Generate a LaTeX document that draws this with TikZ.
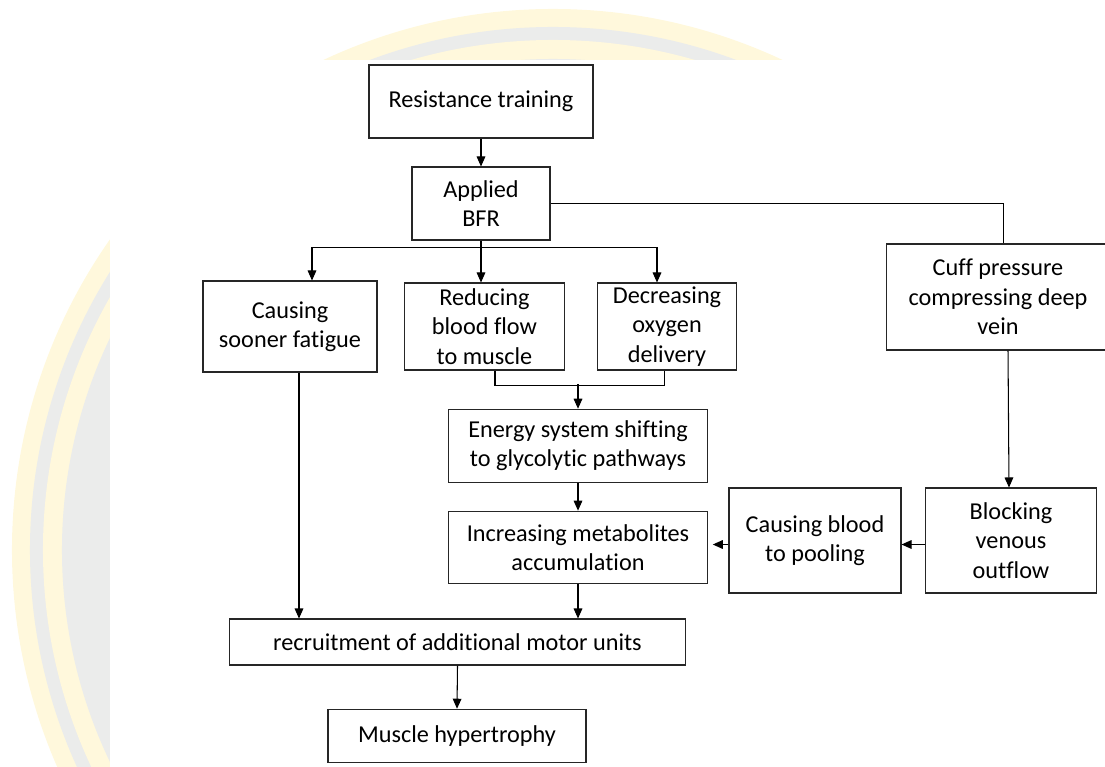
\documentclass[tikz,border=0pt]{standalone}
\usepackage{fontspec}
\setmainfont[Ligatures=NoCommon]{Carlito}
\usepackage{tikz}
\usetikzlibrary{arrows.meta}
\usetikzlibrary{calc}
\definecolor{wmyellow}{RGB}{255,248,220}
\definecolor{wmgrey}{RGB}{235,236,235}

\begin{document}
\begin{tikzpicture}[x=0.03cm,y=-0.03cm,line width=0.9pt,
  box/.style={draw=black!85,align=center,inner sep=0pt,font=\fontsize{20.7}{25}\selectfont},
  >={Triangle[length=0.3cm,width=0.26cm]}]
\clip (0,0) rectangle (1105,767);
\fill[wmyellow] (553,550) circle (16.23cm);
\fill[wmgrey] (553,550) circle (15.69cm);
\fill[wmyellow] (553,550) circle (15.3cm);
\fill[wmgrey] (553,550) circle (14.73cm);
\fill[white] (110,60) rectangle (1105,767);

\node[box,minimum width=6.72cm,minimum height=2.19cm] (rt) at (481,101.5) {Resistance training};
\node[box,minimum width=4.14cm,minimum height=2.19cm] (bfr) at (481,203.5) {Applied\\BFR};
\node[box,minimum width=5.22cm,minimum height=2.73cm] (fat) at (290,326.5) {Causing\\sooner fatigue};
\node[box,minimum width=4.8cm,minimum height=2.61cm] (red) at (484.5,326.5) {Reducing\\blood flow\\to muscle};
\node[box,minimum width=4.17cm,minimum height=2.61cm] (oxy) at (667,326.5) {Decreasing\\oxygen\\delivery};
\node[box,minimum width=6.69cm,minimum height=3.18cm] (cuff) at (998,297) {Cuff pressure\\compressing deep\\vein};
\node[box,minimum width=7.755cm,minimum height=2.205cm] (ene) at (578,446) {Energy system shifting\\to glycolytic pathways};
\node[box,minimum width=7.755cm,minimum height=2.18cm] (inc) at (578,547.5) {Increasing metabolites\\accumulation};
\node[box,minimum width=5.16cm,minimum height=3.15cm] (pool) at (815,540.5) {Causing blood\\to pooling};
\node[box,minimum width=5.115cm,minimum height=3.15cm] (blk) at (1011,540.5) {Blocking\\venous\\outflow};
\node[box,minimum width=13.7cm,minimum height=1.38cm] (rec) at (457.5,642) {recruitment of additional motor units};
\node[box,minimum width=7.74cm,minimum height=1.605cm] (mus) at (457,736) {Muscle hypertrophy};

\coordinate (split) at ($(bfr.south)+(0,6.6)$);
\coordinate (join) at ($(ene.north)+(0,-24.5)$);
\coordinate (fatout) at ($(fat.south)+(9,0)$);

\draw[->] (rt) -- (bfr);
\draw[->] (bfr.south) -- (split) -| ($(fat.north)+(22,0)$);
\draw[->] (split) -| ($(oxy.north)+(-10,0)$);
\draw[->] (split) -- (split |- red.north);
\draw (bfr.east) -| ($(cuff.north)+(5.5,0)$);
\draw ($(red.south)+(10.5,0)$) |- ($(oxy.south)+(-2.5,15)$) -- ($(oxy.south)+(-2.5,0)$);
\draw[->] (join) -- (ene.north);
\draw[->] (ene) -- (inc);
\draw[->] (inc.south) -- (inc.south |- rec.north);
\draw[->] (fatout) -- (fatout |- rec.north);
\draw[->] (rec.south) -- (mus.north);
\draw[->] ($(cuff.south)+(10,0)$) -- ($(blk.north)+(-2,0)$);
\draw[->] ($(blk.west)+(0,4)$) -- ($(pool.east)+(0,4)$);
\draw[->] ($(pool.west)+(0,4)$) -- ($(inc.east)+(5,-3)$);
\end{tikzpicture}
\end{document}
